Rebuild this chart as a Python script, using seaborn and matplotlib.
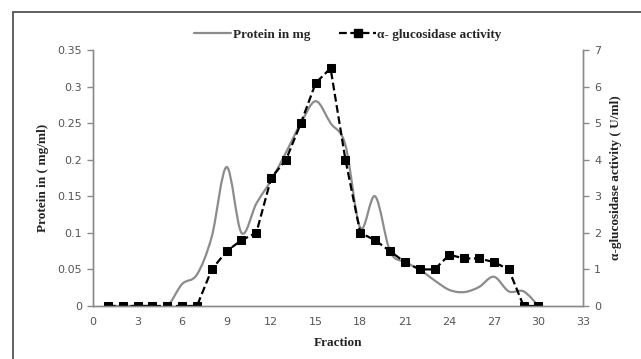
import numpy as np
import pandas as pd
import matplotlib
matplotlib.use("Agg")
import matplotlib.pyplot as plt
import seaborn as sns
from matplotlib.path import Path
from matplotlib.patches import PathPatch
from matplotlib.lines import Line2D

# ---- data ----
fractions = list(range(1, 31))
protein = [0, 0, 0, 0, 0, 0.03, 0.043, 0.095, 0.19, 0.1,
           0.14, 0.172, 0.21, 0.25, 0.28, 0.25, 0.22, 0.107, 0.15, 0.075,
           0.06, 0.05, 0.035, 0.022, 0.019, 0.026, 0.04, 0.02, 0.02, 0]
activity = [0, 0, 0, 0, 0, 0, 0, 1, 1.5, 1.8,
            2, 3.5, 4, 5, 6.1, 6.5, 4, 2, 1.8, 1.5,
            1.2, 1, 1, 1.4, 1.3, 1.3, 1.2, 1, 0, 0]
x_ticks = list(range(0, 34, 3))
left_ticks = [0, 0.05, 0.1, 0.15, 0.2, 0.25, 0.3, 0.35]
left_tick_labels = ["0", "0.05", "0.1", "0.15", "0.2", "0.25", "0.3", "0.35"]
right_ticks = [0, 1, 2, 3, 4, 5, 6, 7]

df = pd.DataFrame({"fraction": fractions, "protein": protein, "activity": activity})

sns.set_style("white")
plt.rcParams['font.family'] = ['DejaVu Sans']

fig = plt.figure(figsize=(6.41, 3.59), dpi=100)
ax = fig.add_axes([93/641, 1-306/359, (583-93)/641, (306-50)/359])
ax2 = ax.twinx()

axis_col = "#8a8a8a"
text_col = "#555555"

# smooth protein curve (Excel-like smoothed line) drawn as Bezier path in data coords
xs = np.array(df["fraction"], float)
ys = np.array(df["protein"], float)
n = len(xs)
verts = [(xs[0], ys[0])]
codes = [Path.MOVETO]
for i in range(n - 1):
    p0 = np.array([xs[max(i-1, 0)], ys[max(i-1, 0)]])
    p1 = np.array([xs[i], ys[i]])
    p2 = np.array([xs[i+1], ys[i+1]])
    p3 = np.array([xs[min(i+2, n-1)], ys[min(i+2, n-1)]])
    c1 = p1 + (p2 - p0) / 6.0
    c2 = p2 - (p3 - p1) / 6.0
    verts += [tuple(c1), tuple(c2), tuple(p2)]
    codes += [Path.CURVE4, Path.CURVE4, Path.CURVE4]
patch = PathPatch(Path(verts, codes), facecolor="none", edgecolor="#8c8c8c", lw=1.6)
ax.add_patch(patch)

sns.lineplot(data=df, x="fraction", y="activity", ax=ax2, color="black",
             linestyle=(0, (3.5, 1.6)), lw=1.6, marker="s", markersize=5.8,
             markeredgecolor="black", markerfacecolor="black")

ax.set_xlim(0, 33)
ax.set_ylim(0, 0.35)
ax2.set_ylim(0, 7)
ax.set_xticks(x_ticks)
ax.set_yticks(left_ticks)
ax.set_yticklabels(left_tick_labels)
ax2.set_yticks(right_ticks)

for a in (ax, ax2):
    for s in a.spines.values():
        s.set_color(axis_col)
        s.set_linewidth(1.0)
    a.spines["top"].set_visible(False)
    a.tick_params(colors=axis_col, labelcolor=text_col, labelsize=8,
                  length=4, width=1.0, direction="out", pad=4)
ax.grid(False)
ax2.grid(False)

serif = "Liberation Serif"
ax.set_xlabel("Fraction", fontfamily=serif, fontweight="bold", fontsize=9.5,
              color="#222222", labelpad=7)
ax.set_ylabel("Protein in ( mg/ml)", fontfamily=serif, fontweight="bold",
              fontsize=9.5, color="#222222", labelpad=6)
ax2.set_ylabel("α-glucosidase activity ( U/ml)", fontfamily=serif,
               fontweight="bold", fontsize=9.5, color="#222222", labelpad=6)

handles = [Line2D([], [], color="#8c8c8c", lw=1.6),
           Line2D([], [], color="black", lw=1.6, linestyle=(0, (3.5, 1.6)),
                  marker="s", markersize=5.8)]
labels = ["Protein in mg", "α- glucosidase activity"]
fig.legend(handles, labels, loc="center", bbox_to_anchor=(0.543, 1-35/359),
           ncol=2, frameon=False, handlelength=2.8, columnspacing=2.2,
           handletextpad=0.1,
           prop={"family": serif, "weight": "bold", "size": 9.5})

# outer frame (top and left edges visible)
fig.add_artist(Line2D([13/641, 1], [1-12/359, 1-12/359], color="#555555", lw=1.3,
                      transform=fig.transFigure))
fig.add_artist(Line2D([13/641, 13/641], [0, 1-12/359], color="#555555", lw=1.3,
                      transform=fig.transFigure))

fig.savefig("out.png", dpi=100)
